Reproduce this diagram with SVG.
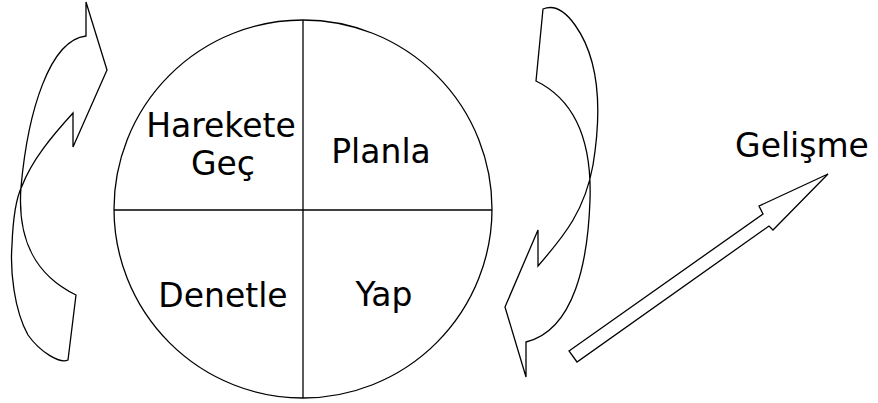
<svg xmlns="http://www.w3.org/2000/svg" width="878" height="403" viewBox="0 0 878 403">
<style>
.s{fill:none;stroke:#000;stroke-width:1.3;stroke-linejoin:miter}
.t{font-family:"DejaVu Sans",sans-serif;font-size:33px;fill:#000;text-anchor:middle}
</style>
<rect width="878" height="403" fill="#fff"/>
<g id="cycle">
<circle class="s" cx="303" cy="209" r="189"/>
<line class="s" x1="303" y1="20" x2="303" y2="398"/>
<line class="s" x1="114" y1="210" x2="492" y2="210"/>
</g>
<g id="harekete"><text class="t" x="221" y="137">Harekete</text><text class="t" x="223" y="175">Geç</text></g>
<g id="planla"><text class="t" x="381" y="163">Planla</text></g>
<g id="denetle"><text class="t" x="223" y="307">Denetle</text></g>
<g id="yap"><text class="t" x="384" y="306">Yap</text></g>
<g id="gelisme"><text class="t" x="802" y="157">Gelişme</text></g>
<g id="connectors">
<path id="leftArrow" class="s" d="M86,2 L86,36 C50,40 28,110 21,187 C17,240 35,275 76,295 L68,360 C60,364 40,352 28,335 C14,310 10,270 12,245 C13,218 16,198 22,186 C32,160 52,136 73,113 L73,147 L107,70 Z"/>
<path id="rightArrow" class="s" d="M543,9 L536,81 C575,100 592,140 590,200 C588,260 575,330 526,342 L526,377 L505,307 L538,230 L538,266 C565,235 585,210 593,165 C602,110 600,60 575,25 C565,11 555,4 543,9 Z"/>
<path id="growthArrow" class="s" d="M569,351 L763,214 L759,206 L828,174 L773,230 L769,226 L577,362 Z"/>
</g>
</svg>
